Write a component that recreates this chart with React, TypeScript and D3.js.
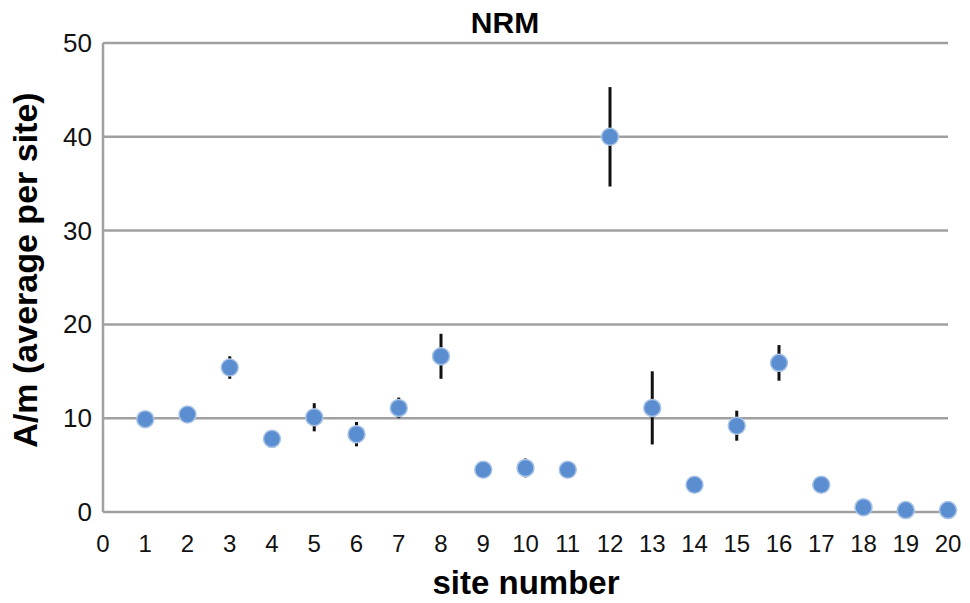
import * as d3 from 'd3';
import { useEffect, useRef } from 'react';

const sites = [1, 2, 3, 4, 5, 6, 7, 8, 9, 10, 11, 12, 13, 14, 15, 16, 17, 18, 19, 20];
const means = [9.9, 10.4, 15.4, 7.8, 10.1, 8.3, 11.1, 16.6, 4.5, 4.7, 4.5, 40.0, 11.1, 2.9, 9.2, 15.9, 2.9, 0.5, 0.2, 0.2];
const errs = [0.4, 0.6, 1.2, 0.3, 1.5, 1.3, 1.1, 2.4, 0.4, 1.0, 0.3, 5.3, 3.9, 0.3, 1.6, 1.9, 0.3, 0.2, 0.2, 0.2];
const yTicks = [0, 10, 20, 30, 40, 50];
const xTicks = d3.range(0, 21);

export default function App() {
  const svgRef = useRef<SVGSVGElement>(null);

  useEffect(() => {
    const w = 970;
    const h = 603;
    const svg = d3.select(svgRef.current);
    svg.selectAll('*').remove();
    svg.attr('width', w).attr('height', h).style('display', 'block')
      .style('font-family', "'Liberation Sans', Arial, sans-serif");

    // plot area
    const left = 103, right = 948, top = 43, bottom = 512;
    const x = d3.scaleLinear().domain([0, 20]).range([left, right]);
    const y = d3.scaleLinear().domain([0, 50]).range([bottom, top]);

    // gridlines
    svg.append('g')
      .selectAll('line')
      .data(yTicks)
      .join('line')
      .attr('x1', left)
      .attr('x2', right)
      .attr('y1', d => y(d))
      .attr('y2', d => y(d))
      .attr('stroke', '#a0a0a0')
      .attr('stroke-width', 2.5);

    // y axis line
    svg.append('line')
      .attr('x1', left).attr('x2', left)
      .attr('y1', top).attr('y2', bottom)
      .attr('stroke', '#a0a0a0').attr('stroke-width', 2.5);

    // y tick labels
    svg.append('g')
      .selectAll('text')
      .data(yTicks)
      .join('text')
      .attr('x', 92)
      .attr('y', d => y(d) + 9)
      .attr('text-anchor', 'end')
      .attr('font-size', 26)
      .attr('fill', '#111')
      .text(d => d);

    // x tick labels
    svg.append('g')
      .selectAll('text')
      .data(xTicks)
      .join('text')
      .attr('x', d => x(d))
      .attr('y', 552)
      .attr('text-anchor', 'middle')
      .attr('font-size', 24)
      .attr('fill', '#111')
      .text(d => d);

    // error bars
    svg.append('g')
      .selectAll('line')
      .data(sites)
      .join('line')
      .attr('x1', d => x(d))
      .attr('x2', d => x(d))
      .attr('y1', (d, i) => y(means[i] + errs[i]))
      .attr('y2', (d, i) => y(Math.max(0, means[i] - errs[i])))
      .attr('stroke', '#111')
      .attr('stroke-width', 3);

    // points
    svg.append('g')
      .selectAll('circle')
      .data(sites)
      .join('circle')
      .attr('cx', d => x(d))
      .attr('cy', (d, i) => y(means[i]))
      .attr('r', 8.5)
      .attr('fill', '#5a8ed0')
      .attr('stroke', '#a9c3e6')
      .attr('stroke-width', 1.5);

    // titles
    svg.append('text')
      .attr('x', 505).attr('y', 33)
      .attr('text-anchor', 'middle')
      .attr('font-size', 30).attr('font-weight', 'bold')
      .text('NRM');

    svg.append('text')
      .attr('x', 526).attr('y', 594)
      .attr('text-anchor', 'middle')
      .attr('font-size', 33).attr('font-weight', 'bold')
      .text('site number');

    svg.append('text')
      .attr('transform', 'translate(37, 270) rotate(-90)')
      .attr('text-anchor', 'middle')
      .attr('font-size', 34).attr('font-weight', 'bold')
      .text('A/m (average per site)');
  }, []);

  return (
    <div style={{ position: 'absolute', left: 0, top: 0 }}>
      <svg ref={svgRef}></svg>
    </div>
  );
}
